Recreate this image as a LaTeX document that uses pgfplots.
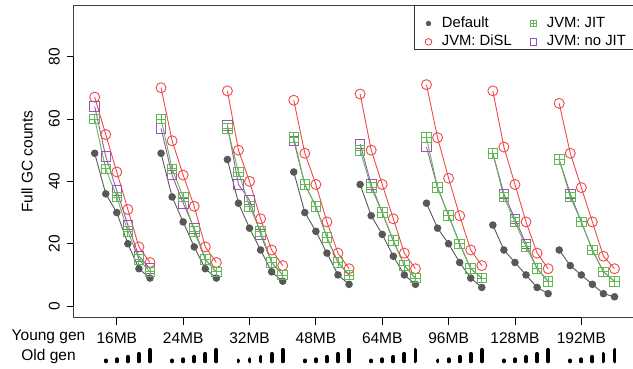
\documentclass[border=0pt]{standalone}
\usepackage{fontspec}
\setmainfont{Liberation Sans}
\usepackage{pgfplots}
\usepackage{pgfplotstable}
\pgfplotsset{compat=1.18}
\usetikzlibrary{plotmarks}

\definecolor{cdef}{RGB}{88,88,88}
\definecolor{cdisl}{RGB}{240,72,72}
\definecolor{cjit}{RGB}{96,184,84}
\definecolor{cnojit}{RGB}{152,86,172}

% square with a plus inside
\pgfdeclareplotmark{boxplus}{%
  \pgfpathrectangle{\pgfpoint{-\pgfplotmarksize}{-\pgfplotmarksize}}{\pgfpoint{2\pgfplotmarksize}{2\pgfplotmarksize}}%
  \pgfpathmoveto{\pgfpoint{-\pgfplotmarksize}{0pt}}\pgfpathlineto{\pgfpoint{\pgfplotmarksize}{0pt}}%
  \pgfpathmoveto{\pgfpoint{0pt}{-\pgfplotmarksize}}\pgfpathlineto{\pgfpoint{0pt}{\pgfplotmarksize}}%
  \pgfusepathqstroke}

\newcommand{\axfont}{\fontsize{15.5pt}{18pt}\selectfont}
\newcommand{\lgfont}{\fontsize{14.8pt}{17pt}\selectfont}

% full GC counts; six old-gen sizes per young-gen size, nan breaks the lines
\pgfplotstableread{
x    def disl jit nojit
1    49  67   60  64
2    36  55   44  48
3    30  43   35  37
4    20  31   24  26
5    12  19   15  16
6    9   14   11  12
6.5  nan nan  nan nan
7    49  70   60  57
8    35  53   44  42
9    27  42   35  33
10   19  32   24  25
11   12  19   15  15
12   9   14   11  11
12.5 nan nan  nan nan
13   47  69   57  58
14   33  50   43  39
15   25  40   32  34
16   18  28   24  23
17   11  18   14  14
18   8   13   10  10
18.5 nan nan  nan nan
19   43  66   54  53
20   30  49   39  39
21   24  39   32  32
22   17  27   22  22
23   10  17   14  14
24   7   12   10  10
24.5 nan nan  nan nan
25   39  68   50  52
26   29  50   38  39
27   23  39   30  30
28   16  28   21  21
29   10  17   13  13
30   7   12   9   9
30.5 nan nan  nan nan
31   33  71   54  51
32   25  54   38  38
33   20  41   29  29
34   14  29   20  20
35   9   18   12  12
36   6   13   9   9
36.5 nan nan  nan nan
37   26  69   49  49
38   18  51   35  36
39   14  39   27  28
40   10  27   19  20
41   6   17   12  12
42   4   12   8   8
42.5 nan nan  nan nan
43   18  65   47  47
44   13  49   35  36
45   10  38   27  27
46   7   27   18  18
47   4   16   11  11
48   3   12   8   8
}\gcdata

\begin{document}
\begin{tikzpicture}
\begin{axis}[
  at={(73.9pt,50.3pt)}, anchor=south west,
  scale only axis, width=561.4pt, height=312pt,
  xmin=-0.88, xmax=49.88, ymin=-3.7, ymax=96.3,
  clip=false,
  unbounded coords=jump,
  axis line style={black!75, line width=0.8pt},
  tick pos=left, tick align=outside, major tick length=7pt,
  tick style={black, line width=0.8pt},
  xtick={3,9,15,21,27,33,39,45},
  xticklabels={16MB,24MB,32MB,48MB,64MB,96MB,128MB,192MB},
  ytick={0,20,40,60,80},
  /pgf/number format/assume math mode=true,
  tick label style={font=\axfont},
  xticklabel style={anchor=north, inner sep=0pt},
  xticklabel shift=7.5pt,
  yticklabel style={rotate=90, anchor=south, inner sep=0pt},
  yticklabel shift=7pt,
  ylabel={Full GC counts},
  ylabel style={font=\axfont, at={(axis description cs:-0.0835,0.5)}, anchor=center},
  legend columns=2, transpose legend,
  legend cell align=left,
  legend style={draw=none, fill=none, at={(axis description cs:0.6058,0.9652)},
    anchor=north west, inner xsep=9.3pt, inner ysep=0pt, row sep=4.9pt,
    font=\lgfont, nodes={inner sep=0pt, text height=10.5pt, text depth=3pt}},
  legend image code/.code={%
    \path[draw=none] (-5pt,0pt) -- (13.4pt,0pt);
    \path[#1, draw=none, /tikz/every mark/.append style={scale=0.66, draw=.}] plot coordinates {(0pt,0pt)};},
  every axis plot/.append style={line width=0.9pt},
]
\addplot[color=cdef, mark=*, mark size=3.3pt, mark options={fill=cdef}] table[x=x, y=def] {\gcdata};
\addlegendentry{Default}
\addplot[color=cdisl, mark=o, mark size=5pt] table[x=x, y=disl] {\gcdata};
\addlegendentry{\makebox[86.6pt][l]{JVM: DiSL}}
\addplot[color=cnojit, mark=square, mark size=4.8pt, forget plot] table[x=x, y=nojit] {\gcdata};
\addplot[color=cjit, mark=boxplus, mark size=4.8pt] table[x=x, y=jit] {\gcdata};
\addlegendentry{JVM: JIT}
\addlegendimage{color=cnojit, mark=square, mark size=4.8pt, line width=0.9pt}
\addlegendentry{JVM: no JIT}

% axis lines spanning the tick ranges
\draw[black, line width=0.8pt] (axis cs:3,-3.7) -- (axis cs:45,-3.7);
\draw[black, line width=0.8pt] (axis cs:-0.88,0) -- (axis cs:-0.88,80);

% old generation sizes, drawn as bars of growing height under each group
\pgfplotsinvokeforeach{2,8,14,20,26,32,38,44}{
  \draw[line width=3.8pt, line cap=round] ([yshift=-43.7pt]axis cs:#1,-3.7) -- ++(0pt,1pt);
  \draw[line width=3.8pt, line cap=round] ([yshift=-43.7pt]axis cs:#1+1,-3.7) -- ++(0pt,2.2pt);
  \draw[line width=3.8pt, line cap=round] ([yshift=-43.7pt]axis cs:#1+2,-3.7) -- ++(0pt,4.6pt);
  \draw[line width=3.8pt, line cap=round] ([yshift=-43.7pt]axis cs:#1+3,-3.7) -- ++(0pt,7.6pt);
  \draw[line width=3.8pt, line cap=round] ([yshift=-43.7pt]axis cs:#1+4,-3.7) -- ++(0pt,11.6pt);
}
\end{axis}
% legend frame
\draw[black!80, line width=0.8pt] (414pt,318.7pt) rectangle (635.3pt,362.3pt);
\node[font=\axfont, inner sep=0pt] at (48.5pt,31.3pt) {Young gen};
\node[font=\axfont, inner sep=0pt] at (48.5pt,12pt) {Old gen};
\pgfresetboundingbox
\useasboundingbox (0pt,0pt) rectangle (633pt,368pt);
\end{tikzpicture}
\end{document}
